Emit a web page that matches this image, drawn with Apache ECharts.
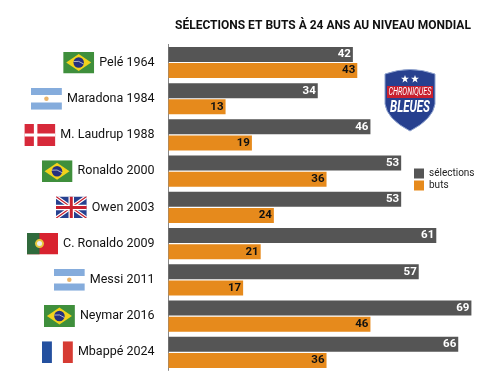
<!DOCTYPE html>
<html><head><meta charset="utf-8">
<style>html,body{margin:0;padding:0;background:#fff}#c{width:501px;height:380px}</style>
<script src="https://cdn.jsdelivr.net/npm/echarts@6/dist/echarts.min.js"></script>
</head><body><div id="c"></div>
<script>
const players = ['Pelé 1964','Maradona 1984','M. Laudrup 1988','Ronaldo 2000','Owen 2003','C. Ronaldo 2009','Messi 2011','Neymar 2016','Mbappé 2024'];
const flagKeys = ['br','ar','dk','br','gb','pt','ar','br','fr'];
const selections = [42,34,46,53,53,61,57,69,66];
const buts = [43,13,19,36,24,21,17,46,36];
const titleText = 'SÉLECTIONS ET BUTS À 24 ANS AU NIVEAU MONDIAL';
const FONT = 'Roboto';

const flagSvg = {
 br:'<rect width="62" height="44" fill="#3f8f3c"/><path d="M31 5 56 22 31 39 6 22z" fill="#f2d21c"/><circle cx="31" cy="22" r="10.5" fill="#26307f"/><path d="M21 20q10-3 20 5" stroke="#ddd" stroke-width="1.5" fill="none"/>',
 ar:'<rect width="62" height="44" fill="#fff"/><rect width="62" height="14.5" fill="#85acdc"/><rect y="29.5" width="62" height="14.5" fill="#85acdc"/><circle cx="31" cy="22" r="4.5" fill="#eab46a"/>',
 dk:'<rect width="62" height="44" fill="#d7293a"/><rect x="19" width="7" height="44" fill="#fff"/><rect y="19" width="62" height="6" fill="#fff"/>',
 gb:'<rect width="62" height="44" fill="#27408f"/><path d="M0 0 62 44M62 0 0 44" stroke="#fff" stroke-width="7"/><path d="M0 0 62 44M62 0 0 44" stroke="#c8202f" stroke-width="2.5"/><path d="M31 0V44M0 22H62" stroke="#fff" stroke-width="11"/><path d="M31 0V44M0 22H62" stroke="#c8202f" stroke-width="6"/>',
 pt:'<rect width="62" height="44" fill="#d8232f"/><rect width="25" height="44" fill="#2f6a3c"/><circle cx="25" cy="22" r="9" fill="#e9c83c"/><circle cx="25" cy="22" r="5" fill="#eee"/>',
 fr:'<rect width="62" height="44" fill="#fff"/><rect width="20" height="44" fill="#24509f"/><rect x="42" width="20" height="44" fill="#d63b33"/>'
};
const svgUri = (w,h,body) => 'data:image/svg+xml;charset=utf-8,' + encodeURIComponent('<svg xmlns="http://www.w3.org/2000/svg" width="'+w+'" height="'+h+'" viewBox="0 0 '+w+' '+h+'">'+body+'</svg>');
const rich = {};
Object.keys(flagSvg).forEach(k => { rich[k] = {width:31,height:22,backgroundColor:{image:svgUri(62,44,flagSvg[k])}}; });
rich.name = {fontFamily:FONT,fontSize:12.5,color:'#111',padding:[0,0,0,5]};

const star = 'M0-4 1-1.2 4-1.2 1.6.6 2.5 3.5 0 1.8-2.5 3.5-1.6.6-4-1.2-1-1.2Z';
const shield = '<path d="M1 6Q26 -3 51 6V36Q49 51 26 63Q3 51 1 36Z" fill="#27408f" stroke="#8fa3cf"/>'
  + '<rect x="3" y="18" width="46" height="12" fill="#c8202f"/>'
  + '<path transform="translate(21 11)" d="'+star+'" fill="#fff"/><path transform="translate(31 11)" d="'+star+'" fill="#fff"/>';

const chart = echarts.init(document.getElementById('c'),null,{renderer:'canvas'});
chart.setOption({
  animation:false,
  backgroundColor:'#fff',
  title:{text:titleText,left:170,top:14.5,textStyle:{fontFamily:FONT,fontSize:12,fontWeight:'bold',color:'#111'}},
  legend:{orient:'vertical',left:409,top:163.5,itemWidth:10,itemHeight:10,itemGap:2,icon:'rect',
    textStyle:{fontFamily:FONT,fontSize:10,color:'#222'},data:['sélections','buts']},
  grid:{left:168.5,top:44.4,width:307.3,height:326},
  xAxis:{type:'value',min:0,max:70,show:false},
  yAxis:{type:'category',inverse:true,data:players,
    axisLine:{show:true,lineStyle:{color:'#888',width:1}},axisTick:{show:false},
    axisLabel:{margin:14,formatter:(v,i)=>'{'+flagKeys[i]+'|}{name|'+v+'}',rich}},
  series:[
   {name:'sélections',type:'bar',data:selections,barWidth:15,barGap:'8%',itemStyle:{color:'#555555'},
    label:{show:true,position:'insideRight',distance:2,color:'#fff',fontFamily:FONT,fontWeight:'bold',fontSize:11.5}},
   {name:'buts',type:'bar',data:buts,barWidth:15,itemStyle:{color:'#e68a1c'},
    label:{show:true,position:'insideRight',distance:2,color:'#111',fontFamily:FONT,fontWeight:'bold',fontSize:11.5}}
  ],
  graphic:[{type:'group',left:384,top:68,children:[
    {type:'image',style:{image:svgUri(52,64,shield),x:0,y:0,width:52,height:64}},
    {type:'text',x:26,y:24.5,scaleX:0.72,style:{text:'CHRONIQUES',x:0,y:0,align:'center',verticalAlign:'middle',fill:'#fff',font:'italic 10px Roboto'}},
    {type:'text',x:26,y:39.5,scaleX:0.72,style:{text:'BLEUES',x:0,y:0,align:'center',verticalAlign:'middle',fill:'#fff',font:'italic bold 16px Roboto'}}
  ]}]
});
</script></body></html>
